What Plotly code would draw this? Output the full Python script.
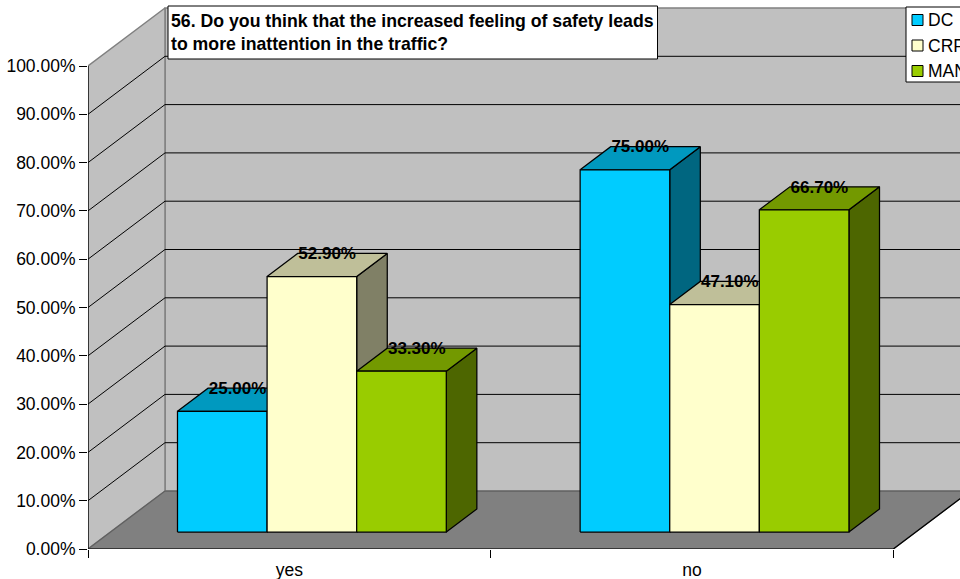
import plotly.graph_objects as go

categories = ["yes", "no"]
series_names = ["DC", "CRP", "MAN"]
dc_values = [25.0, 75.0]
crp_values = [52.9, 47.1]
man_values = [33.3, 66.7]
dc_labels = ["25.00%", "75.00%"]
crp_labels = ["52.90%", "47.10%"]
man_labels = ["33.30%", "66.70%"]
y_ticks = [0, 10, 20, 30, 40, 50, 60, 70, 80, 90, 100]
y_tick_labels = ["0.00%", "10.00%", "20.00%", "30.00%", "40.00%", "50.00%",
                 "60.00%", "70.00%", "80.00%", "90.00%", "100.00%"]
title_text = ("<b>56. Do you think that the increased feeling of safety leads<br>"
              "to more inattention in the traffic?</b>")

FRONT = "#00CCFF", "#FFFFCC", "#99CC00"
TOP = "#0099BF", "#BFBF99", "#739900"
SIDE = "#006680", "#808066", "#4D6600"
FONT = "Liberation Sans, Arial, sans-serif"

W, H = 960, 579
ML, MB = 88, 30
CAT_PX, PCT_PX = 402.65, 4.83
DX, DY = 77 / CAT_PX, 58 / PCT_PX      # oblique depth of the whole box
T0, T1 = 0.293, 0.69                   # bar depth, front and back, share of the box
BAR_W = 89.6 / CAT_PX
GAP = (1 - 3 * BAR_W) / 2
LABEL_DROP = 1.5 / PCT_PX

fig = go.Figure()


def poly(points, fill=None, line="black", width=1.25):
    xs, ys = [], []
    for p in points:
        xs.append(p[0])
        ys.append(p[1])
    fig.add_trace(go.Scatter(
        x=xs, y=ys, mode="lines", cliponaxis=False, showlegend=False, hoverinfo="skip",
        fill="toself" if fill else None, fillcolor=fill,
        line=dict(color=line, width=width)))


# walls and floor
poly([(DX, DY), (2 + DX, DY), (2 + DX, 100 + DY), (DX, 100 + DY), (DX, DY)], "#C0C0C0", "#808080", 1.5)
poly([(0, 0), (0, 100), (DX, 100 + DY), (DX, DY), (0, 0)], "#C0C0C0", "#808080", 1.5)
for v in y_ticks[1:-1]:
    poly([(0, v), (DX, v + DY), (2 + DX, v + DY)], None, "black", 1)
poly([(0, 0), (2, 0), (2 + DX, DY), (DX, DY), (0, 0)], "#808080", "#606060", 1.25)

# bars
all_values = [dc_values, crp_values, man_values]
for s, values in enumerate(all_values):
    for c, v in enumerate(values):
        x0 = c + GAP + s * BAR_W + T0 * DX
        x1 = x0 + BAR_W
        y0 = T0 * DY
        y1 = y0 + v
        ox, oy = (T1 - T0) * DX, (T1 - T0) * DY
        poly([(x1, y0), (x1 + ox, y0 + oy), (x1 + ox, y1 + oy), (x1, y1), (x1, y0)], SIDE[s])
        poly([(x0, y1), (x1, y1), (x1 + ox, y1 + oy), (x0 + ox, y1 + oy), (x0, y1)], TOP[s])
        poly([(x0, y0), (x1, y0), (x1, y1), (x0, y1), (x0, y0)], FRONT[s])

# axes
poly([(0, 0), (0, 100)], None, "black", 1.25)
poly([(0, 0), (2, 0), (2 + DX, DY)], None, "black", 1.25)

# value labels
for s, (values, labels) in enumerate(zip(all_values, [dc_labels, crp_labels, man_labels])):
    xs = [c + GAP + (s + 0.5) * BAR_W + (T0 + T1) / 2 * DX for c in range(len(values))]
    ys = [v + T1 * DY - LABEL_DROP for v in values]
    fig.add_trace(go.Scatter(
        x=xs, y=ys, text=labels, mode="text", textposition="middle center", cliponaxis=False,
        showlegend=False, hoverinfo="skip",
        textfont=dict(family=FONT, size=17, color="black", weight="bold")))


def px(x):
    return (x - ML) / CAT_PX


def py(y):
    return (H - MB - y) / PCT_PX


shapes = [
    dict(type="rect", x0=px(168), x1=px(657.5), y0=py(6), y1=py(59), fillcolor="white",
         line=dict(color="black", width=1), layer="above"),
    dict(type="rect", x0=px(906), x1=px(1000), y0=py(7), y1=py(82), fillcolor="white",
         line=dict(color="black", width=1), layer="above"),
]
annotations = [
    dict(x=px(169), y=py(32.5), text=title_text, showarrow=False, xanchor="left", yanchor="middle",
         align="left", font=dict(family=FONT, size=17.7, color="black")),
]
for i, name in enumerate(series_names):
    cy = 20 + i * 25.5
    shapes.append(dict(type="rect", x0=px(912), x1=px(923), y0=py(cy - 5.5), y1=py(cy + 5.5),
                       fillcolor=FRONT[i], line=dict(color="black", width=1), layer="above"))
    annotations.append(dict(x=px(926), y=py(cy), text=name, showarrow=False, xanchor="left",
                            yanchor="middle", font=dict(family=FONT, size=17.5, color="black")))

fig.update_layout(
    width=W, height=H, margin=dict(l=ML, r=0, t=0, b=MB, autoexpand=False),
    paper_bgcolor="white", plot_bgcolor="white", showlegend=False,
    font=dict(family=FONT, size=17, color="black"),
    shapes=shapes, annotations=annotations,
    xaxis=dict(range=[0, (W - ML) / CAT_PX], showgrid=False, zeroline=False, showline=False,
               tickvals=[0.5, 1.5], ticktext=categories, ticks="outside", ticklen=5,
               tickcolor="rgba(0,0,0,0)", tickwidth=1,
               minor=dict(tickvals=[0, 1, 2], ticks="outside", ticklen=8, tickcolor="black", tickwidth=1),
               tickfont=dict(family=FONT, size=17.5, color="black")),
    yaxis=dict(range=[0, (H - MB) / PCT_PX], showgrid=False, zeroline=False, showline=False,
               tickvals=y_ticks, ticktext=y_tick_labels, ticks="outside", ticklen=8,
               tickcolor="black", tickwidth=1,
               tickfont=dict(family=FONT, size=17.5, color="black")),
)

fig.write_html("out.html", config={"displayModeBar": False},
               post_script="document.body.style.margin='0';document.body.style.overflow='hidden';")
